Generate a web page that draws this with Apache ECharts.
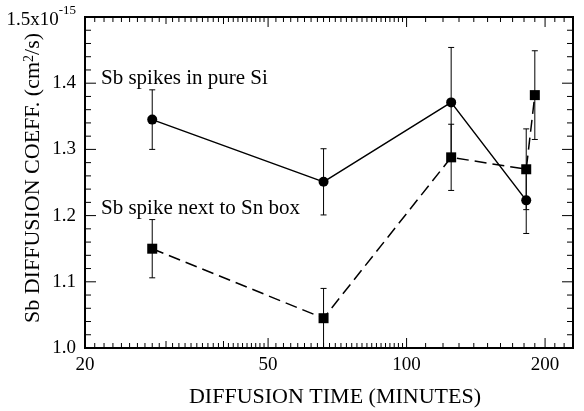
<!DOCTYPE html>
<html>
<head>
<meta charset="utf-8">
<script src="https://cdn.jsdelivr.net/npm/echarts@6/dist/echarts.min.js"></script>
<style>
    html, body { margin: 0; padding: 0; background: #fff; }
    #chart { width: 584px; height: 411px; }
</style>
</head>
<body>
<div id="chart"></div>
<script>
    // Sb spikes in pure Si (circles, solid line)
    const timeSi = [28, 66, 125, 182];
    const coeffSi = [1.345, 1.251, 1.371, 1.223];
    const errSi = [0.045, 0.050, 0.083, 0.050];

    // Sb spike next to Sn box (squares, dashed line)
    const timeSn = [28, 66, 125, 182, 190];
    const coeffSn = [1.150, 1.045, 1.288, 1.270, 1.382];
    const errSn = [0.044, 0.045, 0.050, 0.061, 0.067];

    // x axis (log) labels and tick positions
    const xLabels = [20, 50, 100, 200];
    const xMajorTicks = [50, 100, 200];
    const xMidTicks = [30, 40];
    const xMinorTicks = [21, 22, 23, 24, 25, 26, 27, 28, 29, 31, 32, 33, 34, 35, 36, 37, 38, 39,
        41, 42, 43, 44, 45, 46, 47, 48, 49, 52, 54, 56, 58, 60, 62, 64, 66, 68, 70, 72, 74, 76,
        78, 80, 82, 84, 86, 88, 90, 92, 94, 96, 98, 110, 120, 130, 140, 150, 160, 170, 180, 190,
        210, 220];

    // y axis tick positions
    const yMajorTicks = [1.1, 1.2, 1.3, 1.4];
    const yMinorTicks = [1.02, 1.04, 1.06, 1.08, 1.12, 1.14, 1.16, 1.18, 1.22, 1.24, 1.26, 1.28,
        1.32, 1.34, 1.36, 1.38, 1.42, 1.44, 1.46, 1.48];

    const font = 'Liberation Serif';
    const xMin = 20, xMax = 230, yMin = 1.0, yMax = 1.5;

    function errorBars(times, vals, errs) {
        return {
            type: 'custom',
            encode: {x: 0, y: [1, 2]},
            data: times.map((t, i) => [t, vals[i] - errs[i], vals[i] + errs[i]]),
            renderItem: function (params, api) {
                const lo = api.coord([api.value(0), api.value(1)]);
                const hi = api.coord([api.value(0), api.value(2)]);
                const w = 3;
                const st = {stroke: '#000', lineWidth: 1};
                return {
                    type: 'group',
                    children: [
                        {type: 'line', shape: {x1: lo[0], y1: lo[1], x2: hi[0], y2: hi[1]}, style: st},
                        {type: 'line', shape: {x1: lo[0] - w, y1: lo[1], x2: lo[0] + w, y2: lo[1]}, style: st},
                        {type: 'line', shape: {x1: hi[0] - w, y1: hi[1], x2: hi[0] + w, y2: hi[1]}, style: st}
                    ]
                };
            }
        };
    }

    // inside ticks on bottom and top edges, placed through the x scale
    function xTickSeries(values, len) {
        return {
            type: 'custom',
            silent: true,
            encode: {x: 0, y: 1},
            data: values.map(t => [t, yMin]),
            renderItem: function (params, api) {
                const b = api.coord([api.value(0), yMin]);
                const t = api.coord([api.value(0), yMax]);
                const st = {stroke: '#000', lineWidth: 1};
                return {
                    type: 'group',
                    children: [
                        {type: 'line', shape: {x1: b[0], y1: b[1], x2: b[0], y2: b[1] - len}, style: st},
                        {type: 'line', shape: {x1: t[0], y1: t[1], x2: t[0], y2: t[1] + len}, style: st}
                    ]
                };
            },
            z: 1
        };
    }

    // inside ticks on left and right edges, placed through the y scale
    function yTickSeries(values, len) {
        return {
            type: 'custom',
            silent: true,
            encode: {x: 0, y: 1},
            data: values.map(v => [xMin, v]),
            renderItem: function (params, api) {
                const l = api.coord([xMin, api.value(1)]);
                const r = api.coord([xMax, api.value(1)]);
                const st = {stroke: '#000', lineWidth: 1};
                return {
                    type: 'group',
                    children: [
                        {type: 'line', shape: {x1: l[0], y1: l[1], x2: l[0] + len, y2: l[1]}, style: st},
                        {type: 'line', shape: {x1: r[0], y1: r[1], x2: r[0] - len, y2: r[1]}, style: st}
                    ]
                };
            },
            z: 1
        };
    }

    const option = {
        animation: false,
        grid: {
            left: 85, right: 11, top: 17, bottom: 63, outerBoundsMode: 'none',
            show: true, borderColor: '#000', borderWidth: 2, backgroundColor: 'transparent'
        },
        xAxis: {
            type: 'log', min: xMin, max: xMax,
            axisLine: {show: true, lineStyle: {color: '#000', width: 2}},
            splitLine: {show: false},
            axisTick: {show: false},
            axisLabel: {show: true, customValues: xLabels, margin: 8,
                fontFamily: font, fontSize: 19, color: '#000'}
        },
        yAxis: {
            type: 'value', min: yMin, max: yMax, interval: 0.1,
            axisLine: {show: true, lineStyle: {color: '#000', width: 2}},
            splitLine: {show: false},
            axisTick: {show: false},
            axisLabel: {
                margin: 9, fontFamily: font, fontSize: 19, color: '#000',
                formatter: function (v) {
                    if (Math.abs(v - 1.5) < 1e-9) return '{b|1.5x10}{sup|-15}';
                    return v.toFixed(1);
                },
                rich: {
                    b: {fontFamily: font, fontSize: 19, color: '#000', verticalAlign: 'bottom', padding: [7, 0, 0, 0]},
                    sup: {fontFamily: font, fontSize: 13, color: '#000', verticalAlign: 'top', lineHeight: 13}
                }
            }
        },
        graphic: [
            {type: 'text', left: 101, top: 68,
                style: {text: 'Sb spikes in pure Si', font: '21px "Liberation Serif"', fill: '#000'}},
            {type: 'text', left: 101, top: 198,
                style: {text: 'Sb spike next to Sn box', font: '21px "Liberation Serif"', fill: '#000'}},
            {type: 'text', x: 335, y: 397,
                style: {text: 'DIFFUSION TIME (MINUTES)', fontFamily: font, fontSize: 22, fill: '#000',
                    align: 'center', verticalAlign: 'middle'}},
            {type: 'text', x: 33, y: 178, rotation: Math.PI / 2,
                style: {text: 'Sb DIFFUSION COEFF. (cm{sup|2}/s)', fontFamily: font, fontSize: 22, fill: '#000',
                    align: 'center', verticalAlign: 'middle',
                    rich: {sup: {fontFamily: font, fontSize: 14, fill: '#000', verticalAlign: 'top', lineHeight: 14}}}}
        ],
        series: [
            xTickSeries(xMajorTicks, 10),
            xTickSeries(xMidTicks, 7),
            xTickSeries(xMinorTicks, 5),
            yTickSeries(yMajorTicks, 11),
            yTickSeries(yMinorTicks, 6),
            errorBars(timeSi, coeffSi, errSi),
            errorBars(timeSn, coeffSn, errSn),
            {
                name: 'Sb spikes in pure Si',
                type: 'line',
                data: timeSi.map((t, i) => [t, coeffSi[i]]),
                symbol: 'circle', symbolSize: 10,
                itemStyle: {color: '#000'},
                lineStyle: {color: '#000', width: 1.5},
                z: 3
            },
            {
                name: 'Sb spike next to Sn box',
                type: 'line',
                data: timeSn.map((t, i) => [t, coeffSn[i]]),
                symbol: 'rect', symbolSize: 10,
                itemStyle: {color: '#000'},
                lineStyle: {color: '#000', width: 1.5, type: [12, 6]},
                z: 3
            }
        ]
    };

    const chart = echarts.init(document.getElementById('chart'));
    chart.setOption(option);
</script>
</body>
</html>
